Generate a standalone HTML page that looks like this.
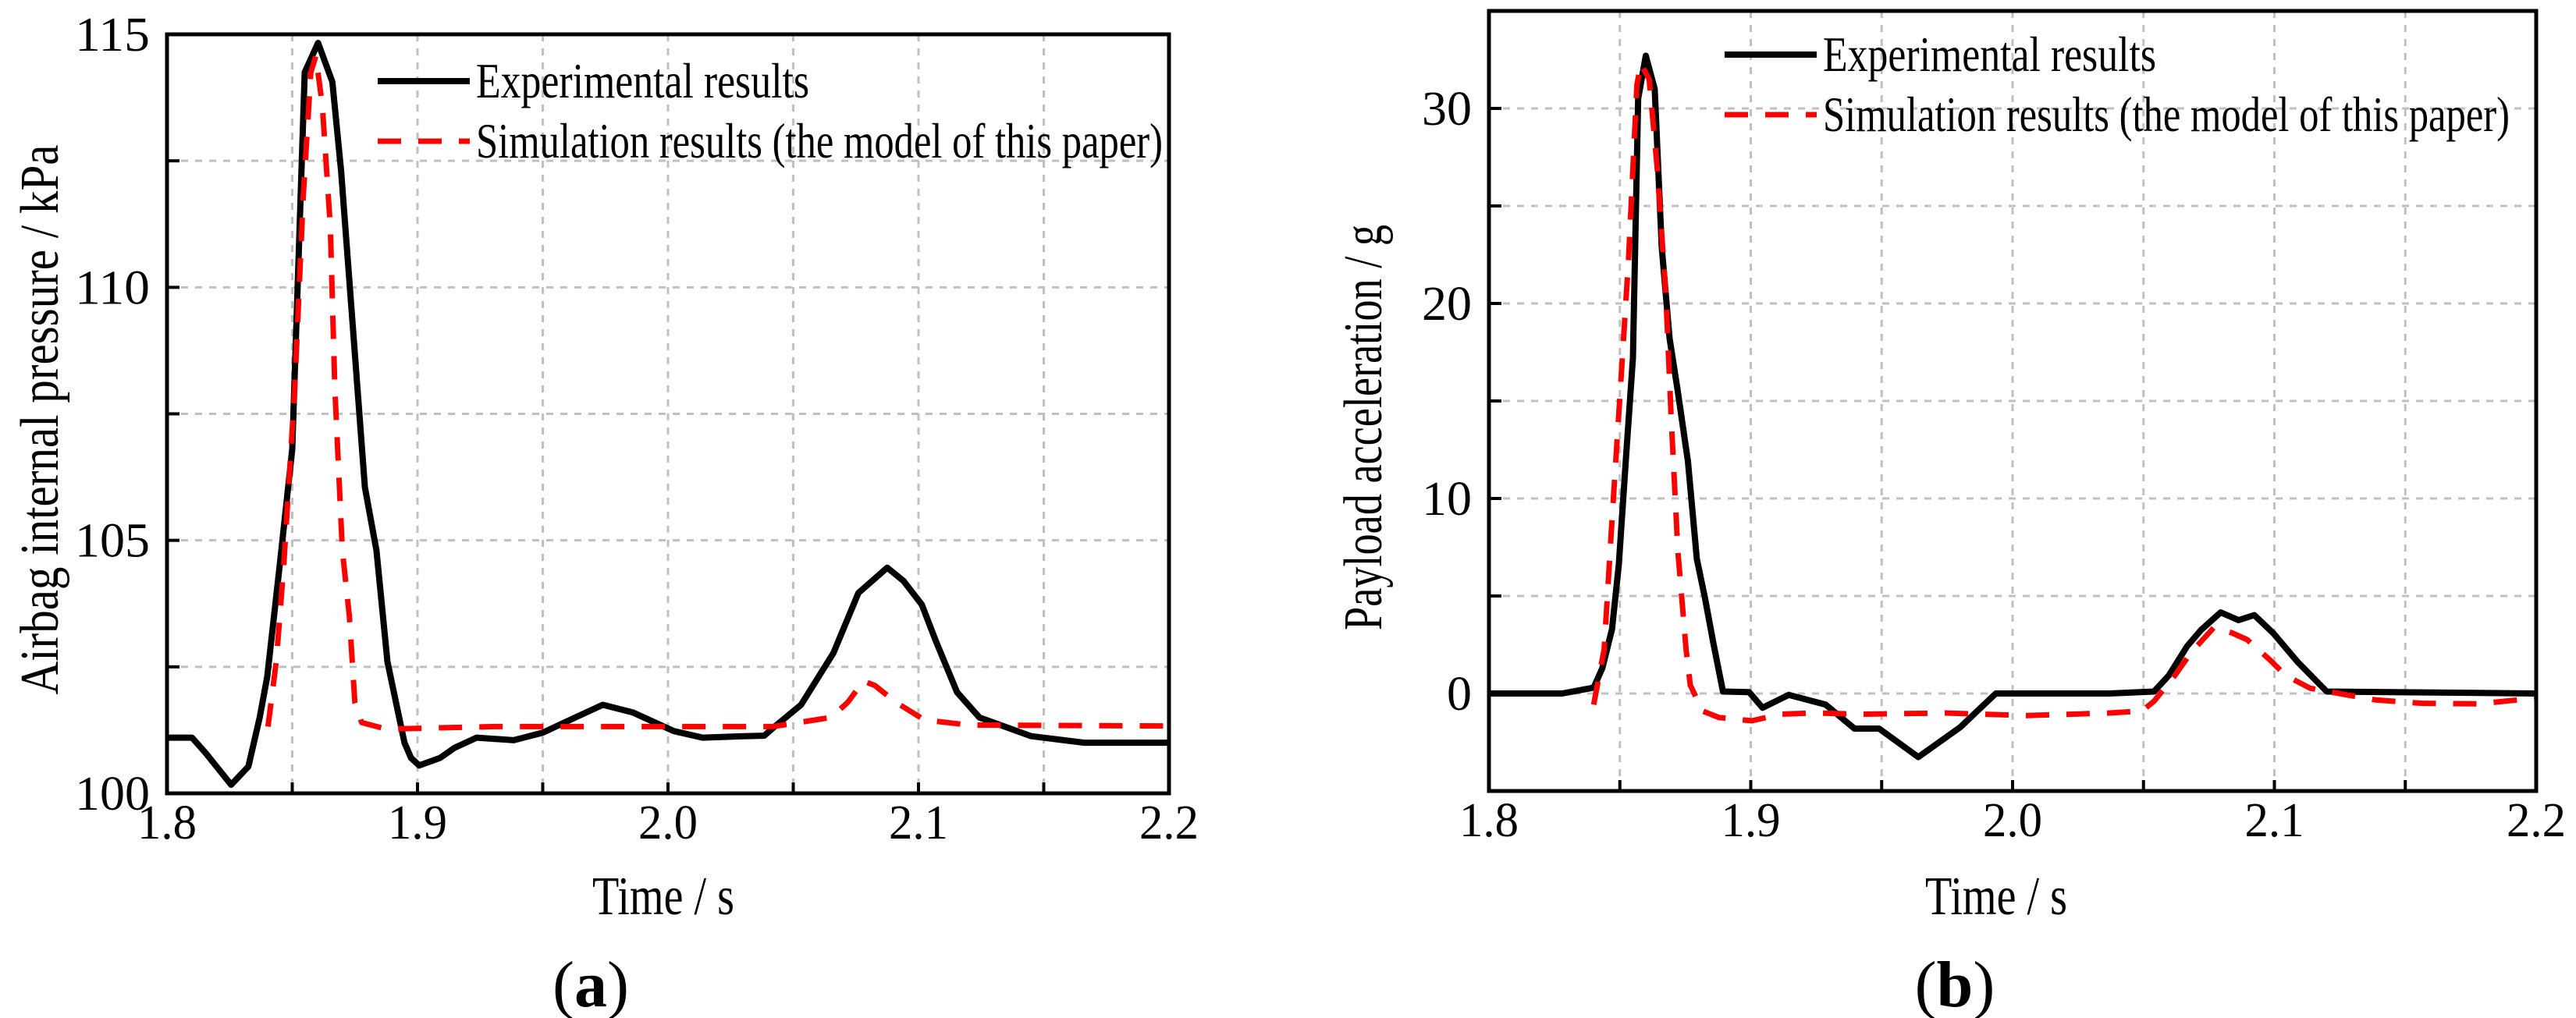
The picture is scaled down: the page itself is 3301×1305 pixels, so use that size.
<!DOCTYPE html>
<html><head><meta charset="utf-8"><style>
html,body{margin:0;padding:0;background:#fff;}
svg{display:block;font-family:"Liberation Serif",serif;}
</style></head><body>
<svg id="chart" width="3301" height="1305" viewBox="0 0 3301 1305" xmlns="http://www.w3.org/2000/svg"></svg>
<script>
const xTicks=[1.8,1.9,2.0,2.1,2.2];
const xTickLabels=["1.8","1.9","2.0","2.1","2.2"];
const aYTicks=[100,105,110,115];
const aYTickLabels=["100","105","110","115"];
const bYTicks=[0,10,20,30];
const bYTickLabels=["0","10","20","30"];
const aExpT=[1.8,1.81,1.8154,1.8256,1.8325,1.837,1.84,1.845,1.85,1.855,1.8603,1.866,1.8695,1.879,1.8836,1.888,1.8948,1.8974,1.9007,1.909,1.9148,1.9236,1.9384,1.95,1.963,1.974,1.9859,2.0023,2.0138,2.0302,2.0384,2.0426,2.0531,2.066,2.076,2.0875,2.094,2.1013,2.107,2.1154,2.1243,2.145,2.1662,2.2];
const aExpV=[101.1,101.1,100.8,100.17,100.53,101.5,102.3,104.5,106.8,114.25,114.83,114.06,112.3,106.05,104.8,102.6,101.0,100.7,100.55,100.7,100.9,101.1,101.05,101.2,101.5,101.75,101.6,101.23,101.1,101.13,101.14,101.32,101.75,102.77,103.96,104.46,104.2,103.73,103.0,102.0,101.5,101.13,101.0,101.0];
const aSimT=[1.8403,1.8436,1.8466,1.851,1.8544,1.8574,1.8594,1.862,1.8652,1.867,1.87,1.8728,1.875,1.8777,1.8875,1.9311,2.042,2.0651,2.0718,2.078,2.0826,2.091,2.1023,2.12,2.2];
const aSimV=[101.32,102.6,104.5,108,111.8,114.25,114.57,113.6,111.2,108,104.8,103.5,101.8,101.4,101.27,101.32,101.32,101.5,101.8,102.22,102.13,101.8,101.45,101.35,101.33];
const bExpT=[1.8,1.828,1.84,1.8433,1.847,1.8496,1.8524,1.855,1.857,1.8599,1.8633,1.866,1.869,1.872,1.876,1.8794,1.8825,1.8857,1.8894,1.8994,1.9045,1.9145,1.9286,1.9396,1.949,1.964,1.98,1.9936,2.0369,2.054,2.0597,2.0667,2.072,2.0795,2.0863,2.0923,2.0996,2.109,2.12,2.2];
const bExpV=[0,0,0.3,1.3,3.3,6.6,12.2,17.2,30.5,32.7,31.0,22.9,18.2,15.6,11.9,6.9,4.9,2.6,0.1,0.07,-0.73,-0.07,-0.57,-1.8,-1.8,-3.26,-1.73,0,0,0.1,0.93,2.43,3.26,4.16,3.76,4.02,3.09,1.6,0.1,0];
const bSimT=[1.84,1.844,1.847,1.8502,1.8533,1.8565,1.858,1.8612,1.8643,1.8675,1.8697,1.8722,1.8753,1.8769,1.8816,1.8878,1.9004,1.9114,1.924,1.9427,1.9741,2.0055,2.0369,2.0494,2.054,2.062,2.0682,2.077,2.0839,2.0896,2.098,2.1043,2.1137,2.1247,2.1388,2.156,2.178,2.2];
const bSimV=[-0.57,2.26,8.9,15.6,22.2,31.2,32.3,31.5,26.9,20.6,13.9,7.25,2.26,0.43,-0.9,-1.23,-1.4,-1.06,-1.0,-1.06,-1.0,-1.13,-1.0,-0.9,-0.4,0.93,2.1,3.4,3.1,2.76,1.76,0.93,0.27,0,-0.33,-0.5,-0.53,-0.23];

const NS="http://www.w3.org/2000/svg";
const svg=document.getElementById('chart');
function mk(tag,attrs,parent,txt){const e=document.createElementNS(NS,tag);for(const k in attrs)e.setAttribute(k,attrs[k]);if(txt!==undefined)e.textContent=txt;(parent||svg).appendChild(e);return e;}

function panel(p){
  const g=mk('g',{});
  
  
  const X=v=>p.L+(v-1.8)/0.4*(p.R-p.L);
  const Y=v=>p.B-(v-p.ymin)/(p.ymax-p.ymin)*(p.B-p.T);
  for(let v=1.85;v<2.199;v+=0.05){const l=mk('line',{x1:X(v),x2:X(v),y1:p.T,y2:p.B,stroke:'#c0c0c0','stroke-width':3,'stroke-dasharray':'9 9'},g);
    
    mk('line',{x1:X(v),x2:X(v),y1:p.B,y2:p.B-14,stroke:'#000','stroke-width':4},g);}
  for(let v=p.ymin+p.ystep;v<p.ymax-1e-6;v+=p.ystep){const l=mk('line',{x1:p.L,x2:p.R,y1:Y(v),y2:Y(v),stroke:'#c0c0c0','stroke-width':3,'stroke-dasharray':'9 9'},g);
    
    mk('line',{x1:p.L,x2:p.L+16,y1:Y(v),y2:Y(v),stroke:'#000','stroke-width':4},g);}
  function series(T,V,attrs,name){const d=T.map((t,i)=>(i?'L':'M')+X(t).toFixed(1)+' '+Y(V[i]).toFixed(1)).join(' ');
    const e=mk('path',Object.assign({d:d,fill:'none','stroke-linejoin':'round'},attrs),g);
    }
  series(p.et,p.ev,{stroke:'#000','stroke-width':8},'experimental-line');
  series(p.st,p.sv,{stroke:'#ff0000','stroke-width':7,'stroke-dasharray':'30 22'},'simulation-line');
  const fr=mk('rect',{x:p.L,y:p.T,width:p.R-p.L,height:p.B-p.T,fill:'none',stroke:'#000','stroke-width':5},g);
  
  xTicks.forEach((v,i)=>{const t=mk('text',{x:X(v),y:p.B+58,'font-size':62,'text-anchor':'middle',textLength:76,lengthAdjust:'spacingAndGlyphs'},g,xTickLabels[i]);
    });
  p.yt.forEach((v,i)=>{const s=p.ytl[i];const t=mk('text',{x:p.L-22,y:Y(v)+21,'font-size':62,'text-anchor':'end',textLength:s.length*32,lengthAdjust:'spacingAndGlyphs'},g,s);
    });
  const xt=mk('text',{x:p.xtx,y:1172,'font-size':70,'text-anchor':'middle',textLength:182,lengthAdjust:'spacingAndGlyphs'},g,'Time / s');
  
  const yt=mk('text',{x:0,y:0,'font-size':70,'text-anchor':'middle',textLength:p.ytl2,lengthAdjust:'spacingAndGlyphs',transform:`translate(${p.ytx},${p.ytc}) rotate(-90)`},g,p.ytitle);
  
  const cap=mk('text',{x:p.capx,y:1290,'font-size':84,'text-anchor':'middle'},g);
  
  mk('tspan',{},cap,'(');mk('tspan',{'font-weight':'bold'},cap,p.lab);mk('tspan',{},cap,')');
  const lg=mk('g',{},g);
  
  mk('line',{x1:p.lx,x2:p.lx+118,y1:p.ly,y2:p.ly,stroke:'#000','stroke-width':8},lg);
  const t1=mk('text',{x:p.lx+126,y:p.ly+21,'font-size':64,textLength:427,lengthAdjust:'spacingAndGlyphs'},lg,'Experimental results');
  
  mk('line',{x1:p.lx,x2:p.lx+118,y1:p.ly+77,y2:p.ly+77,stroke:'#ff0000','stroke-width':7,'stroke-dasharray':'30 22'},lg);
  const t2=mk('text',{x:p.lx+126,y:p.ly+98,'font-size':64,textLength:880,lengthAdjust:'spacingAndGlyphs'},lg,'Simulation results (the model of this paper)');
  
}
panel({name:'panel-a-pressure',L:214,R:1498,T:44,B:1017,ymin:100,ymax:115,ystep:2.5,et:aExpT,ev:aExpV,st:aSimT,sv:aSimV,yt:aYTicks,ytl:aYTickLabels,ytitle:'Airbag internal pressure / kPa',ytx:74,ytc:538,ytl2:705,xtx:850,capx:757,lab:'a',lx:484,ly:104});
panel({name:'panel-b-acceleration',L:1908,R:3250,T:14,B:1014,ymin:-5,ymax:35,ystep:5,et:bExpT,ev:bExpV,st:bSimT,sv:bSimV,yt:bYTicks,ytl:bYTickLabels,ytitle:'Payload acceleration / g',ytx:1770,ytc:548,ytl2:520,xtx:2558,capx:2505,lab:'b',lx:2210,ly:70});
</script>
</body></html>
